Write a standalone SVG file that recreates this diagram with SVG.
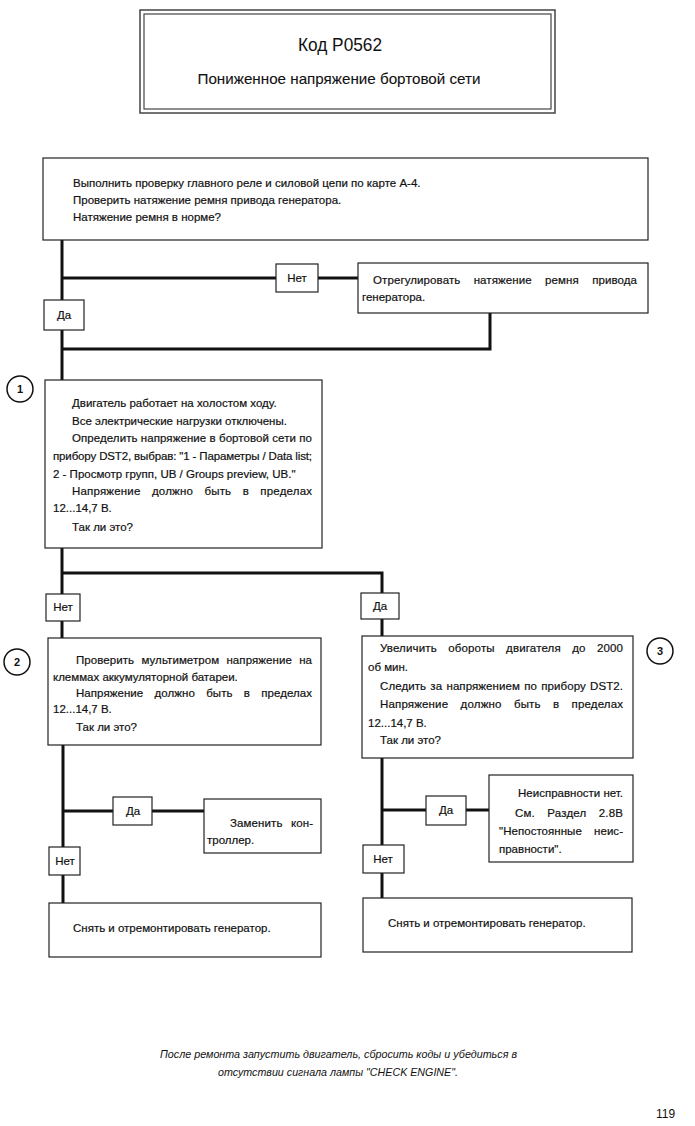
<svg xmlns="http://www.w3.org/2000/svg" width="695" height="1126" viewBox="0 0 695 1126">
<style>
.box{fill:#fff;stroke:#222;stroke-width:1.2}
.lbl{fill:#fff;stroke:#222;stroke-width:1.2}
.conn{fill:none;stroke:#111;stroke-width:3;stroke-linejoin:miter}
.t{font-family:"Liberation Sans",Arial,sans-serif;font-size:11.5px;fill:#111;stroke:#111;stroke-width:0.2}
.c{text-anchor:middle}
.e{text-anchor:end}
.circ{fill:#fff;stroke:#111;stroke-width:1.5}
.num{font-family:"Liberation Sans",Arial,sans-serif;font-size:11px;font-weight:bold;fill:#111;text-anchor:middle}
.foot{font-family:"Liberation Sans",Arial,sans-serif;font-size:10.5px;font-style:italic;fill:#111}
</style>
<rect width="695" height="1126" fill="#fff"/>

<g id="title">
<rect x="140" y="10" width="415" height="103" fill="#fff" stroke="#444" stroke-width="1.5"/>
<rect x="144" y="14" width="407" height="95" fill="none" stroke="#444" stroke-width="1.2"/>
<text class="t c" x="340" y="51" style="font-size:17.5px;stroke-width:0" textLength="84" lengthAdjust="spacingAndGlyphs">Код P0562</text>
<text class="t c" x="339" y="84" style="font-size:14.5px;stroke-width:0.1" textLength="283" lengthAdjust="spacingAndGlyphs">Пониженное напряжение бортовой сети</text>
</g>

<g id="connectors">
<path class="conn" d="M62 239 V382"/>
<path class="conn" d="M62 278 H276 M318 278 H358"/>
<path class="conn" d="M490 313 V349 H62"/>
<path class="conn" d="M62 548 V638"/>
<path class="conn" d="M62 573 H382 V636"/>
<path class="conn" d="M63 745 V903"/>
<path class="conn" d="M63 811 H113 M152 811 H204"/>
<path class="conn" d="M382 758 V898"/>
<path class="conn" d="M382 810 H426 M466 810 H489"/>
</g>

<g id="n1">
<rect class="box" x="43" y="158" width="605" height="82"/>
<text class="t" x="73" y="187">Выполнить проверку главного реле и силовой цепи по карте А-4.</text>
<text class="t" x="73" y="204">Проверить натяжение ремня привода генератора.</text>
<text class="t" x="73" y="221">Натяжение ремня в норме?</text>
</g>

<g id="l1-no">
<rect class="lbl" x="276" y="264" width="42" height="28"/>
<text class="t c" x="297" y="282">Нет</text>
</g>

<g id="n-adjust">
<rect class="box" x="358" y="263" width="290" height="50"/>
<text class="t" x="373" y="284" style="word-spacing:10px" textLength="264" lengthAdjust="spacing">Отрегулировать натяжение ремня привода</text>
<text class="t" x="362" y="301">генератора.</text>
</g>

<g id="l1-yes">
<rect class="lbl" x="44" y="300" width="40" height="30"/>
<text class="t c" x="64" y="319">Да</text>
</g>

<g id="c1">
<circle class="circ" cx="20" cy="389" r="13"/>
<text class="num" x="20" y="393">1</text>
</g>

<g id="n2">
<rect class="box" x="45" y="380" width="277" height="168"/>
<text class="t" x="72" y="407">Двигатель работает на холостом ходу.</text>
<text class="t" x="72" y="425">Все электрические нагрузки отключены.</text>
<text class="t" x="72" y="442" textLength="240" lengthAdjust="spacing">Определить напряжение в бортовой сети по</text>
<text class="t" x="53" y="460" textLength="259" lengthAdjust="spacing">прибору DST2, выбрав: "1 - Параметры / Data list;</text>
<text class="t" x="53" y="478">2 - Просмотр групп, UB / Groups preview, UB."</text>
<text class="t" x="72" y="495" style="word-spacing:8px" textLength="240" lengthAdjust="spacing">Напряжение должно быть в пределах</text>
<text class="t" x="53" y="512">12...14,7 В.</text>
<text class="t" x="72" y="531">Так ли это?</text>
</g>

<g id="l2-no">
<rect class="lbl" x="46" y="594" width="34" height="27"/>
<text class="t c" x="63" y="611">Нет</text>
</g>

<g id="l2-yes">
<rect class="lbl" x="361" y="593" width="38" height="26"/>
<text class="t c" x="380" y="610">Да</text>
</g>

<g id="c2">
<circle class="circ" cx="17" cy="662" r="13"/>
<text class="num" x="17" y="666">2</text>
</g>

<g id="n3">
<rect class="box" x="48" y="638" width="273" height="107"/>
<text class="t" x="76" y="664" style="word-spacing:4px" textLength="236" lengthAdjust="spacing">Проверить мультиметром напряжение на</text>
<text class="t" x="53" y="681">клеммах аккумуляторной батареи.</text>
<text class="t" x="76" y="697" style="word-spacing:8px" textLength="236" lengthAdjust="spacing">Напряжение должно быть в пределах</text>
<text class="t" x="53" y="713">12...14,7 В.</text>
<text class="t" x="76" y="731">Так ли это?</text>
</g>

<g id="l3-yes">
<rect class="lbl" x="113" y="797" width="39" height="28"/>
<text class="t c" x="133" y="815">Да</text>
</g>

<g id="n-ctrl">
<rect class="box" x="204" y="799" width="117" height="54"/>
<text class="t" x="230" y="827" style="word-spacing:5px" textLength="83" lengthAdjust="spacing">Заменить кон-</text>
<text class="t" x="207" y="844">троллер.</text>
</g>

<g id="l3-no">
<rect class="lbl" x="49" y="847" width="31" height="28"/>
<text class="t c" x="65" y="865">Нет</text>
</g>

<g id="n-gen-left">
<rect class="box" x="49" y="903" width="272" height="54"/>
<text class="t" x="73" y="932">Снять и отремонтировать генератор.</text>
</g>

<g id="c3">
<circle class="circ" cx="660" cy="651" r="13"/>
<text class="num" x="660" y="655">3</text>
</g>

<g id="n4">
<rect class="box" x="362" y="636" width="271" height="122"/>
<text class="t" x="380" y="652" style="word-spacing:8px" textLength="243" lengthAdjust="spacing">Увеличить обороты двигателя до 2000</text>
<text class="t" x="368" y="671">об мин.</text>
<text class="t" x="380" y="690" style="word-spacing:1px" textLength="243" lengthAdjust="spacing">Следить за напряжением по прибору DST2.</text>
<text class="t" x="380" y="708" style="word-spacing:9px" textLength="243" lengthAdjust="spacing">Напряжение должно быть в пределах</text>
<text class="t" x="368" y="727">12...14,7 В.</text>
<text class="t" x="380" y="744">Так ли это?</text>
</g>

<g id="l4-yes">
<rect class="lbl" x="426" y="796" width="40" height="29"/>
<text class="t c" x="446" y="814">Да</text>
</g>

<g id="n-ok">
<rect class="box" x="489" y="775" width="144" height="87"/>
<text class="t e" x="623" y="797">Неисправности нет.</text>
<text class="t" x="515" y="817" style="word-spacing:9px" textLength="108" lengthAdjust="spacing">См. Раздел 2.8В</text>
<text class="t" x="499" y="835" style="word-spacing:9px" textLength="124" lengthAdjust="spacing">"Непостоянные неис-</text>
<text class="t" x="499" y="853">правности".</text>
</g>

<g id="l4-no">
<rect class="lbl" x="363" y="845" width="41" height="28"/>
<text class="t c" x="383" y="863">Нет</text>
</g>

<g id="n-gen-right">
<rect class="box" x="363" y="898" width="269" height="54"/>
<text class="t" x="388" y="927">Снять и отремонтировать генератор.</text>
</g>

<g id="footer">
<text class="foot" x="160" y="1058" textLength="357" lengthAdjust="spacingAndGlyphs">После ремонта запустить двигатель, сбросить коды и убедиться в</text>
<text class="foot" x="218" y="1076" textLength="240" lengthAdjust="spacingAndGlyphs">отсутствии сигнала лампы "CHECK ENGINE".</text>
<text class="t" x="656" y="1118" style="font-size:12px;stroke-width:0">119</text>
</g>
</svg>
